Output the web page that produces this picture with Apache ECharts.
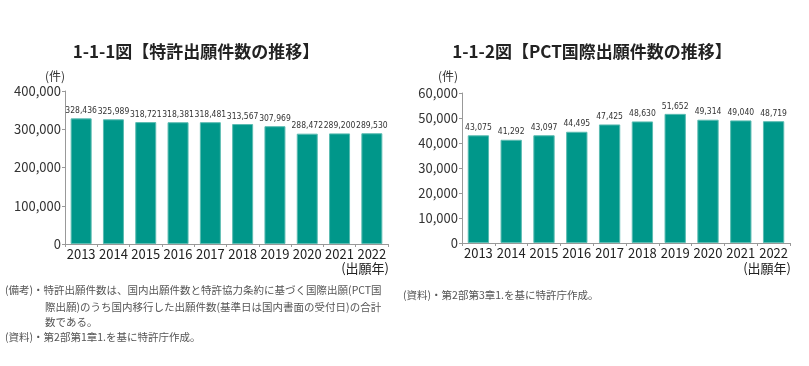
<!DOCTYPE html>
<html><head><meta charset="utf-8">
<script src="https://cdn.jsdelivr.net/npm/echarts@6/dist/echarts.min.js"></script>
<style>html,body{margin:0;padding:0;background:#fff}#c{width:809px;height:366px}</style>
</head><body><div id="c"></div>
<script>
const years = ['2013','2014','2015','2016','2017','2018','2019','2020','2021','2022'];
const patentApps = [328436,325989,318721,318381,318481,313567,307969,288472,289200,289530];
const pctApps = [43075,41292,43097,44495,47425,48630,51652,49314,49040,48719];
const title1 = '1-1-1図【特許出願件数の推移】';
const title2 = '1-1-2図【PCT国際出願件数の推移】';
const unitLabel = '(件)';
const xName = '(出願年)';
const note1 = ['(備考)・特許出願件数は、国内出願件数と特許協力条約に基づく国際出願(PCT国',
               '際出願)のうち国内移行した出願件数(基準日は国内書面の受付日)の合計',
               '数である。'];
const source1 = '(資料)・第2部第1章1.を基に特許庁作成。';
const source2 = '(資料)・第2部第3章1.を基に特許庁作成。';

const FONT = '"Noto Sans CJK JP", "Noto Sans", sans-serif';
const NARROW = '"DejaVu Sans Condensed", "Liberation Sans Narrow", sans-serif';
const chart = echarts.init(document.getElementById('c'), null, {renderer:'canvas'});
const fmt = v => v.toLocaleString('en-US');

function xAxis(i){
  return {type:'category', gridIndex:i, data:years,
    axisLine:{lineStyle:{color:'#999'}},
    axisTick:{show:true, length:3, lineStyle:{color:'#999'}},
    axisLabel:{interval:0, color:'#222', fontSize:13, fontFamily:FONT, margin:4}};
}
function yAxis(i,max,interval){
  return {type:'value', gridIndex:i, min:0, max:max, interval:interval,
    axisLine:{show:true, lineStyle:{color:'#999'}},
    axisTick:{show:true, length:3, lineStyle:{color:'#999'}},
    splitLine:{show:false},
    axisLabel:{color:'#333', fontSize:13, fontFamily:FONT, margin:4, formatter:fmt}};
}
function bars(i,data){
  return {type:'bar', xAxisIndex:i, yAxisIndex:i, data:data, barWidth:'65%',
    itemStyle:{color:'#00978a', borderColor:'#5bbcb2', borderWidth:1},
    label:{show:true, position:'top', distance:3, color:'#333', fontSize:8.5,
      fontFamily:NARROW, formatter:p=>fmt(p.value)}};
}
function txt(x,y,s,opt){
  return {type:'text', x:x, y:y, style:Object.assign({text:s, fill:'#555', fontSize:10.5, fontFamily:FONT, textVerticalAlign:'middle'}, opt||{})};
}

chart.setOption({
  animation:false,
  grid:[{left:65, right:421, top:91, bottom:122},
        {left:462, right:19, top:93, bottom:123}],
  xAxis:[xAxis(0), xAxis(1)],
  yAxis:[yAxis(0,400000,100000), yAxis(1,60000,10000)],
  series:[bars(0,patentApps), bars(1,pctApps)],
  graphic:[
    txt(196,52,title1,{fill:'#222', fontSize:17, fontWeight:'bold', textAlign:'center'}),
    txt(592,52,title2,{fill:'#222', fontSize:17, fontWeight:'bold', textAlign:'center'}),
    txt(55,76,unitLabel,{fill:'#333', fontSize:12, textAlign:'center'}),
    txt(448,76,unitLabel,{fill:'#333', fontSize:12, textAlign:'center'}),
    txt(389,268,xName,{fill:'#222', fontSize:13, textAlign:'right'}),
    txt(791,268,xName,{fill:'#222', fontSize:13, textAlign:'right'}),
    txt(5,290,note1[0]),
    txt(45,307,note1[1]),
    txt(45,322,note1[2]),
    txt(5,337,source1),
    txt(403,295,source2)
  ]
});
</script></body></html>
